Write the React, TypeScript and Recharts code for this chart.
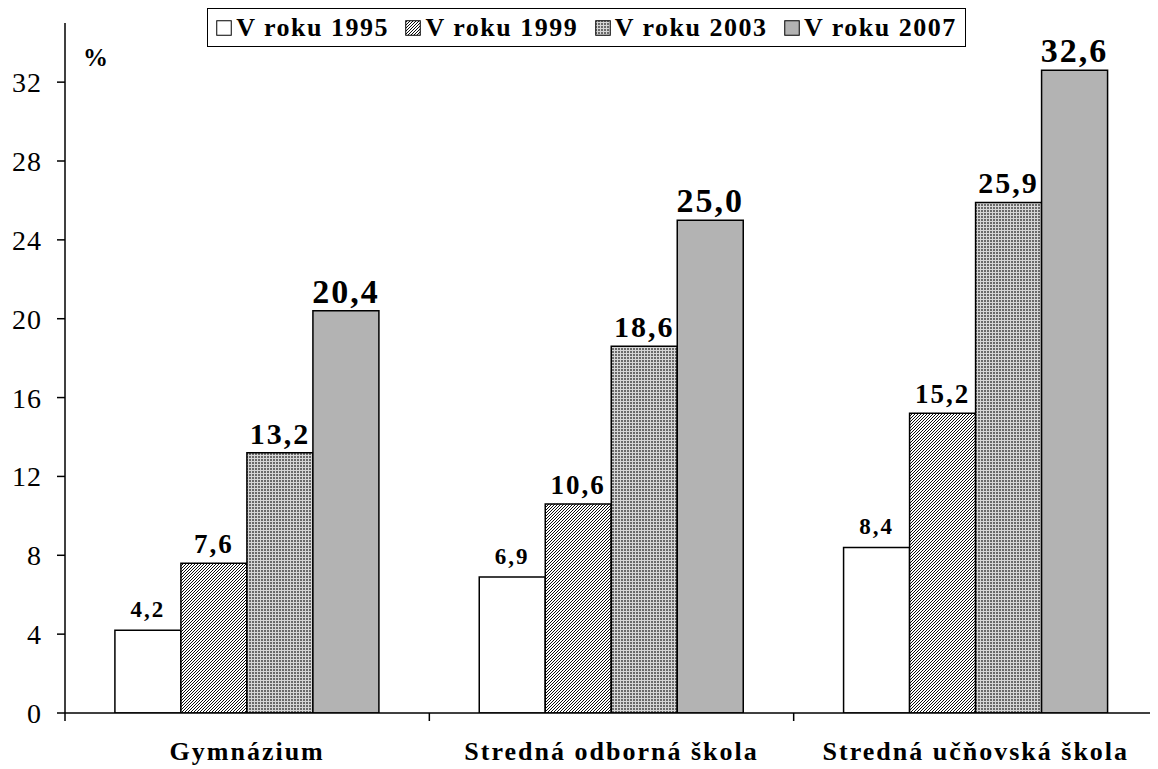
import React from "react";
import {Bar, BarChart, LabelList, XAxis, YAxis} from "recharts";

const categories = ["Gymnázium", "Stredná odborná škola", "Stredná učňovská škola"];
const y1995 = [4.2, 6.9, 8.4];
const y1999 = [7.6, 10.6, 15.2];
const y2003 = [13.2, 18.6, 25.9];
const y2007 = [20.4, 25.0, 32.6];
const yTicks = [0, 4, 8, 12, 16, 20, 24, 28, 32];
const seriesNames = ["V roku 1995", "V roku 1999", "V roku 2003", "V roku 2007"];

const data = categories.map((name, i) => ({
    name,
    y1995: y1995[i],
    y1999: y1999[i],
    y2003: y2003[i],
    y2007: y2007[i],
}));

const FONT = "'Liberation Serif', 'Times New Roman', serif";

const series = [
    {key: "y1995", fill: "#ffffff", labelSize: 23, labelOffset: 13},
    {key: "y1999", fill: "url(#hatch)", labelSize: 27, labelOffset: 10},
    {key: "y2003", fill: "url(#dots)", labelSize: 30, labelOffset: 9},
    {key: "y2007", fill: "#b3b3b3", labelSize: 34, labelOffset: 8},
];

const fmt = (v: any) => Number(v).toFixed(1).replace(".", ",");

function Patterns({suffix = ""}: {suffix?: string}) {
    return (
        <defs>
            <pattern id={"hatch" + suffix} patternUnits="userSpaceOnUse" width="3" height="3">
                <rect width="3" height="3" fill="#ffffff" />
                <path d="M-1,1 l2,-2 M0,3 l3,-3 M2,4 l2,-2" stroke="#000000" strokeWidth="0.95" />
            </pattern>
            <pattern id={"dots" + suffix} patternUnits="userSpaceOnUse" width="3" height="3">
                <rect width="3" height="3" fill="#d6d6d6" />
                <rect width="2" height="2" fill="#6a6a6a" />
            </pattern>
        </defs>
    );
}

function CategoryTick(props: any) {
    const {x, y, payload} = props;
    const off = payload && payload.offset ? payload.offset : 0;
    return (
        <g>
            <line x1={x - off} x2={x - off} y1={y - 8} y2={y} stroke="#000" strokeWidth={1.5} />
            <text x={x} y={y + 39} textAnchor="middle" fontFamily={FONT} fontWeight="bold"
                  fontSize={26} letterSpacing={2} fill="#000">
                {payload.value}
            </text>
        </g>
    );
}

function Legend() {
    const fills = ["#ffffff", "url(#hatchL)", "url(#dotsL)", "#b3b3b3"];
    return (
        <div style={{
            position: "absolute", left: 207, top: 8, height: 39, width: 759,
            border: "1.5px solid #000", background: "#fff", display: "flex",
            alignItems: "center", justifyContent: "space-around", boxSizing: "border-box",
            fontFamily: FONT, fontWeight: "bold", fontSize: 26, letterSpacing: 1.5, color: "#000",
        }}>
            {seriesNames.map((n, i) => (
                <div key={n} style={{display: "flex", alignItems: "center"}}>
                    <svg width={16} height={16} style={{marginRight: 4}}>
                        {i === 1 || i === 2 ? <Patterns suffix="L" /> : null}
                        <rect x={0.75} y={0.75} width={14.5} height={14.5} fill={fills[i]}
                              stroke="#000" strokeWidth={1} />
                    </svg>
                    <span>{n}</span>
                </div>
            ))}
        </div>
    );
}

export default function App() {
    return (
        <div style={{position: "relative", marginLeft: -8, marginTop: -8, width: 1158, height: 769, background: "#fff"}}>
            <BarChart width={1158} height={769} data={data}
                      margin={{top: 23, right: 0, left: 0, bottom: 0}}
                      barCategoryGap="13.7%" barGap={0}>
                <Patterns />
                <XAxis dataKey="name" height={56} tickLine={false} tickSize={8} tickMargin={0}
                       axisLine={{stroke: "#000", strokeWidth: 1.5}} tick={<CategoryTick />}
                       interval={0} />
                <YAxis width={65} domain={[0, 35]} ticks={yTicks} tickSize={8} tickMargin={15}
                       axisLine={{stroke: "#000", strokeWidth: 1.5}}
                       tickLine={{stroke: "#000", strokeWidth: 1.5}}
                       tick={{fill: "#000", fontFamily: FONT, fontSize: 28, letterSpacing: 1}}
                       allowDataOverflow
                       label={{
                           content: (p: any) => (
                               <text x={(p.viewBox?.x ?? 0) + (p.viewBox?.width ?? 65) + 18}
                                     y={66} fontFamily={FONT} fontWeight="bold" fontSize={25}
                                     fill="#000">%</text>
                           ),
                       }} />
                {series.map((s) => (
                    <Bar key={s.key} dataKey={s.key} fill={s.fill} stroke="#000" strokeWidth={1.5}
                         isAnimationActive={false}>
                        <LabelList dataKey={s.key} position="top" offset={s.labelOffset}
                                   formatter={fmt}
                                   style={{fontFamily: FONT, fontWeight: "bold", fontSize: s.labelSize,
                                       letterSpacing: 2, fill: "#000"}} />
                    </Bar>
                ))}
            </BarChart>
            <Legend />
        </div>
    );
}
